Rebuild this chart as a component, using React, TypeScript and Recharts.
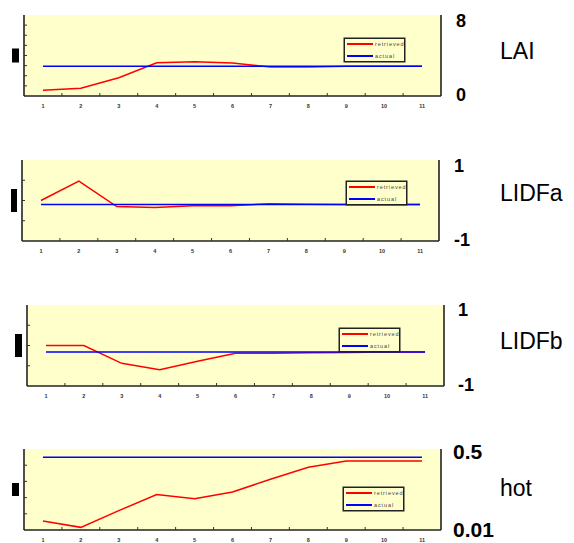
import React from 'react';
import { LineChart, Line, XAxis, YAxis, Legend, Label, CartesianGrid } from 'recharts';

// x positions (scene / step number)
const steps = [1, 2, 3, 4, 5, 6, 7, 8, 9, 10, 11];

const laiRetrieved = [0.56, 0.76, 1.81, 3.29, 3.39, 3.26, 2.86, 2.86, 2.93, 2.95, 2.95];
const laiActual = [2.95, 2.95, 2.95, 2.95, 2.95, 2.95, 2.95, 2.95, 2.95, 2.95, 2.95];

const lidfaRetrieved = [0.0, 0.48, -0.15, -0.17, -0.13, -0.13, -0.08, -0.09, -0.1, -0.1, -0.1];
const lidfaActual = [-0.1, -0.1, -0.1, -0.1, -0.1, -0.1, -0.1, -0.1, -0.1, -0.1, -0.1];

const lidfbRetrieved = [0.0, 0.0, -0.44, -0.6, -0.39, -0.19, -0.19, -0.18, -0.17, -0.16, -0.16];
const lidfbActual = [-0.16, -0.16, -0.16, -0.16, -0.16, -0.16, -0.16, -0.16, -0.16, -0.16, -0.16];

const hotRetrieved = [0.064, 0.026, 0.127, 0.224, 0.199, 0.24, 0.317, 0.39, 0.427, 0.427, 0.427];
const hotActual = [0.45, 0.45, 0.45, 0.45, 0.45, 0.45, 0.45, 0.45, 0.45, 0.45, 0.45];

const laiTicks = [0, 1, 2, 3, 4, 5, 6, 7, 8];
const lidfTicks = [-1, -0.5, 0, 0.5, 1];
const hotTicks = [0.01, 0.108, 0.206, 0.304, 0.402, 0.5];

const seriesNames = ['retrieved', 'actual'];
const seriesColors = ['#FF0000', '#0000FF'];

// labels sit on the steps, tick marks sit between them
const xTicks = [...steps, ...steps.slice(1).map((s) => s - 0.5)];

const PLOT_BG = '#FFFFCC';
const FRAME = { stroke: '#222', strokeWidth: 1.6 };
const CHART_W = 574;
const CHART_H = 120;

const panels = [
  { title: 'LAI', retrieved: laiRetrieved, actual: laiActual, ticks: laiTicks, top: 0, left: 24, right: 441,
    legendLeft: 344, legendTop: 38, markW: 7, markH: 14, valueSize: 18, valueDx: 15, topDy: 5.8, titleDy: 3 },
  { title: 'LIDFa', retrieved: lidfaRetrieved, actual: lidfaActual, ticks: lidfTicks, top: 145, left: 22, right: 439,
    legendLeft: 346, legendTop: 36, markW: 6, markH: 23, valueSize: 18, valueDx: 15, topDy: 5.8, titleDy: 0 },
  { title: 'LIDFb', retrieved: lidfbRetrieved, actual: lidfbActual, ticks: lidfTicks, top: 290, left: 27, right: 444,
    legendLeft: 339, legendTop: 38, markW: 7, markH: 23, valueSize: 18, valueDx: 14, topDy: 5.3, titleDy: 3 },
  { title: 'hot', retrieved: hotRetrieved, actual: hotActual, ticks: hotTicks, top: 434, left: 24, right: 441,
    legendLeft: 343, legendTop: 53, markW: 7, markH: 13, valueSize: 21, valueDx: 12, topDy: 2.8, titleDy: 6 },
];

const BottomTick = (props: any) => {
  const { x, y, payload } = props;
  const v = payload.value;
  if (Number.isInteger(v)) {
    return (
      <text x={x} y={y + 10} textAnchor="middle" dominantBaseline="central" fontSize={5.5} fontWeight="bold" fill="#333">
        {v}
      </text>
    );
  }
  return <line x1={x} x2={x} y1={y} y2={y - 3} stroke="#333" strokeWidth={1} />;
};

const leftTick = (min: number, max: number) => (props: any) => {
  const { x, y, payload } = props;
  if (payload.value === min || payload.value === max) return <g />;
  return <line x1={x} x2={x + 3} y1={y} y2={y} stroke="#333" strokeWidth={1} />;
};

const rightTick = (max: number, size: number, dx: number, topDy: number) => (props: any) => {
  const { x, y, payload } = props;
  const v = payload.value;
  return (
    <text x={x + dx} y={y + (v === max ? topDy : -1)} dominantBaseline="central" fontSize={size} fontWeight="bold" fill="#000">
      {String(v)}
    </text>
  );
};

// boxed legend: retrieved on top, actual below
const LegendBox = () => (
  <div style={{ position: 'relative', width: 61, height: 24, boxSizing: 'border-box', border: '1px solid #222',
    boxShadow: '0 0 0 0.5px #222', background: PLOT_BG }}>
    {seriesNames.map((name, i) => (
      <div key={name} style={{ position: 'absolute', left: 2, top: 3 + i * 12, height: 4, display: 'flex', alignItems: 'center' }}>
        <span style={{ display: 'block', width: 26, height: 2, background: seriesColors[i] }} />
        <span style={{ marginLeft: 2, fontSize: 5.5, lineHeight: '6px', letterSpacing: 0.9, color: '#444', fontFamily: 'Arial, sans-serif', whiteSpace: 'nowrap' }}>
          {name}
        </span>
      </div>
    ))}
  </div>
);

const Panel = ({ p }: { p: (typeof panels)[number] }) => {
  const data = steps.map((s, i) => ({ step: s, retrieved: p.retrieved[i], actual: p.actual[i] }));
  const min = p.ticks[0];
  const max = p.ticks[p.ticks.length - 1];
  return (
    <LineChart width={CHART_W} height={CHART_H} data={data} margin={{ top: 15, right: 0, bottom: 0, left: 0 }}>
      <CartesianGrid horizontal={false} vertical={false} fill={PLOT_BG} />
      <XAxis dataKey="step" type="number" domain={[0.5, 11.5]} ticks={xTicks} interval={0} allowDataOverflow
        height={24} tickSize={0} tickMargin={0} tickLine={false} axisLine={FRAME} tick={BottomTick} />
      <XAxis xAxisId="top" orientation="top" type="number" domain={[0.5, 11.5]} allowDataOverflow
        height={0} tick={false} tickLine={false} axisLine={FRAME} />
      <YAxis type="number" domain={[min, max]} ticks={p.ticks} interval={0} allowDataOverflow width={p.left}
        tickSize={0} tickMargin={0} tickLine={false} axisLine={FRAME} tick={leftTick(min, max)}>
        <Label content={(lp: any) => {
          const vb = lp.viewBox;
          return <rect x={vb.x + vb.width - 5 - p.markW} y={vb.y + vb.height / 2 - p.markH / 2} width={p.markW} height={p.markH} fill="#000" />;
        }} />
      </YAxis>
      <YAxis yAxisId="r" orientation="right" type="number" domain={[min, max]} ticks={[min, max]} interval={0} allowDataOverflow
        width={CHART_W - p.right} tickSize={0} tickMargin={0} tickLine={false} axisLine={FRAME}
        tick={rightTick(max, p.valueSize, p.valueDx, p.topDy)}>
        <Label content={(lp: any) => {
          const vb = lp.viewBox;
          return (
            <text x={500} y={vb.y + vb.height / 2 + p.titleDy} fontSize={23} fill="#000">
              {p.title}
            </text>
          );
        }} />
      </YAxis>
      <Legend layout="vertical" align="center" verticalAlign="middle" content={LegendBox}
        wrapperStyle={{ left: p.legendLeft, top: p.legendTop, width: 61, height: 24 }} />
      <Line name={seriesNames[0]} dataKey="retrieved" type="linear" stroke={seriesColors[0]} strokeWidth={1.5} dot={false} isAnimationActive={false} />
      <Line name={seriesNames[1]} dataKey="actual" type="linear" stroke={seriesColors[1]} strokeWidth={1.5} dot={false} isAnimationActive={false} />
    </LineChart>
  );
};

export default function App() {
  return (
    <div style={{ position: 'absolute', left: 0, top: 0, width: 574, height: 543, overflow: 'hidden', background: '#fff',
      fontFamily: 'Arial, "Liberation Sans", sans-serif' }}>
      {panels.map((p) => (
        <div key={p.title} style={{ position: 'absolute', left: 0, top: p.top }}>
          <Panel p={p} />
        </div>
      ))}
    </div>
  );
}
